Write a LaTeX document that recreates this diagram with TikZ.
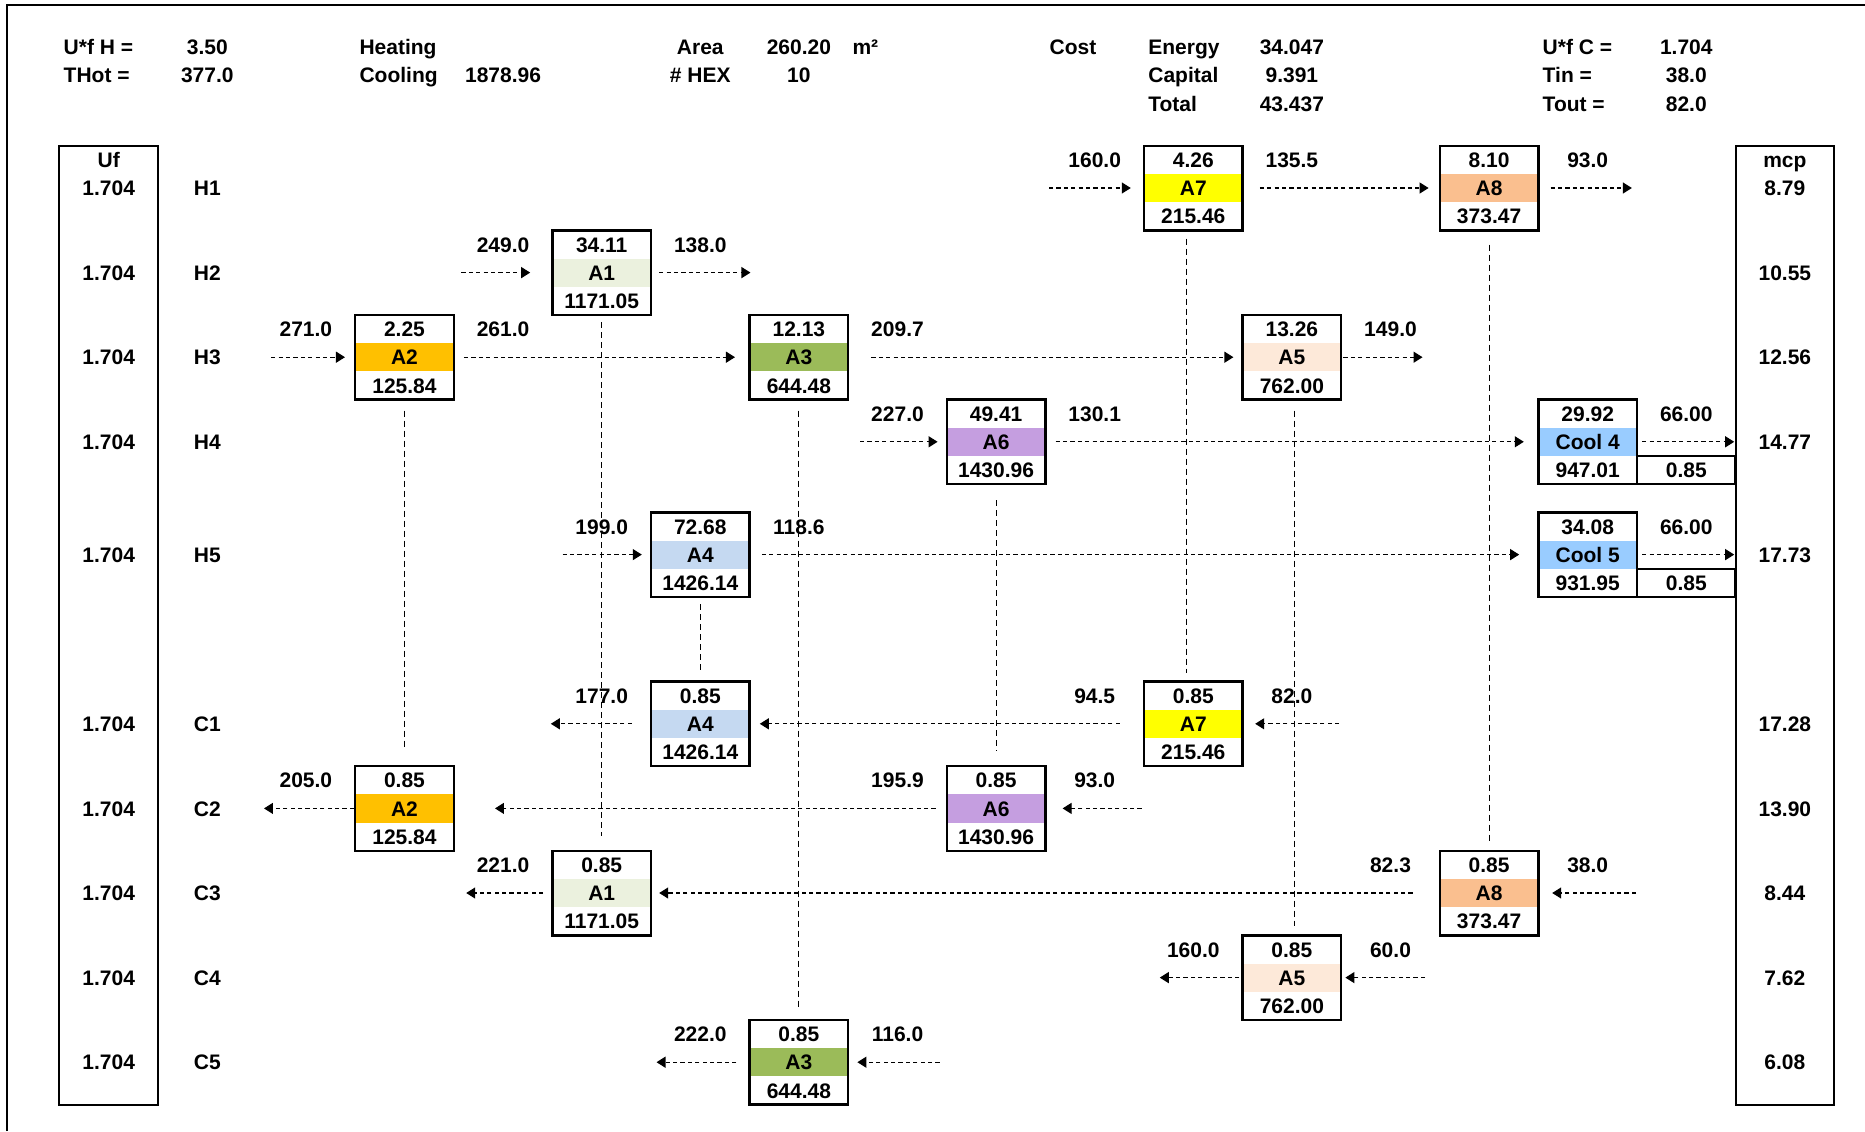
\documentclass[tikz,border=0pt]{standalone}
\usepackage{fontspec}
\setmainfont{Liberation Sans}
\usetikzlibrary{arrows.meta}

\definecolor{cA1}{HTML}{EBF1DE}
\definecolor{cA2}{HTML}{FFC000}
\definecolor{cA3}{HTML}{9BBB59}
\definecolor{cA4}{HTML}{C5D9F1}
\definecolor{cA5}{HTML}{FDE9D9}
\definecolor{cA6}{HTML}{C59EE0}
\definecolor{cA7}{HTML}{FFFF00}
\definecolor{cA8}{HTML}{FABF8F}
\definecolor{cCool}{HTML}{99CCFF}

% text centred in a cell (column, row), or left aligned in it
\newcommand\tx[3]{\node[txt] at (#1,#2+0.27) {#3};}
\newcommand\txl[3]{\node[txt,anchor=base west] at (#1-0.46,#2+0.27) {#3};}

% exchanger: name, column, row, top value, label, bottom value, band colour
\newcommand\hxbox[7]{%
  \fill[#7] (#2-0.5,#3-0.5) rectangle (#2+0.5,#3+0.5);
  \node[hxframe] (#1) at (#2,#3) {};
  \tx{#2}{#3-1}{#4}
  \tx{#2}{#3}{#5}
  \tx{#2}{#3+1}{#6}
}

\tikzset{
  txt/.style={font=\fontsize{10.5}{12}\selectfont\bfseries, inner sep=0pt, anchor=base},
  hxframe/.style={draw, line width=1.2pt, inner sep=0pt, minimum width=49.3pt, minimum height=42.3pt},
  cellframe/.style={draw, line width=1.2pt, inner sep=0pt, minimum width=49.3pt, minimum height=14.1pt},
  panel/.style={draw, line width=1pt},
  flow/.style={line width=0.6pt, dash pattern=on 2.1pt off 1.6pt, -{Triangle[length=4.5pt,width=5.5pt]}},
  pairline/.style={line width=0.45pt, dash pattern=on 3pt off 2pt},
}

\begin{document}
\begin{tikzpicture}[x=49.3pt, y=-14.1pt]
\useasboundingbox (-4.1024,-6.6667) rectangle (14.8124,33.4397);
\fill[white] (-4.1024,-6.6667) rectangle (14.8124,33.4397);
% outer frame (top and left edges)
\draw[line width=1pt] (-4.0314,33.4397) -- (-4.0314,-6.4894) -- (14.8124,-6.4894);

% ---- summary block ----
\txl{-3}{-5}{U*f H =}  \tx{-2}{-5}{3.50}
\txl{-3}{-4}{THot =}   \tx{-2}{-4}{377.0}
\txl{0}{-5}{Heating}
\txl{0}{-4}{Cooling}   \tx{1}{-4}{1878.96}
\tx{3}{-5}{Area}       \tx{4}{-5}{260.20}  \txl{5}{-5}{m²}
\tx{3}{-4}{\# HEX}     \tx{4}{-4}{10}
\txl{7}{-5}{Cost}
\txl{8}{-5}{Energy}    \tx{9}{-5}{34.047}
\txl{8}{-4}{Capital}   \tx{9}{-4}{9.391}
\txl{8}{-3}{Total}     \tx{9}{-3}{43.437}
\txl{12}{-5}{U*f C =}  \tx{13}{-5}{1.704}
\txl{12}{-4}{Tin =}    \tx{13}{-4}{38.0}
\txl{12}{-3}{Tout =}   \tx{13}{-3}{82.0}

% ---- side columns ----
\node[panel, inner sep=0pt, minimum width=49.3pt, minimum height=479.4pt] (uf) at (-3,15.5) {};
\node[panel, inner sep=0pt, minimum width=49.3pt, minimum height=479.4pt] (mcp) at (14,15.5) {};
\tx{-3}{-1}{Uf}
\tx{14}{-1}{mcp}
\foreach \r/\s/\m in {0/H1/8.79, 3/H2/10.55, 6/H3/12.56, 9/H4/14.77, 13/H5/17.73,
                      19/C1/17.28, 22/C2/13.90, 25/C3/8.44, 28/C4/7.62, 31/C5/6.08}{
  \tx{-3}{\r}{1.704}
  \tx{-2}{\r}{\s}
  \tx{14}{\r}{\m}
}

% ---- exchangers on the hot streams ----
\hxbox{hA7}{8}{0}{4.26}{A7}{215.46}{cA7}
\hxbox{hA8}{11}{0}{8.10}{A8}{373.47}{cA8}
\hxbox{hA1}{2}{3}{34.11}{A1}{1171.05}{cA1}
\hxbox{hA2}{0}{6}{2.25}{A2}{125.84}{cA2}
\hxbox{hA3}{4}{6}{12.13}{A3}{644.48}{cA3}
\hxbox{hA5}{9}{6}{13.26}{A5}{762.00}{cA5}
\hxbox{hA6}{6}{9}{49.41}{A6}{1430.96}{cA6}
\hxbox{hA4}{3}{13}{72.68}{A4}{1426.14}{cA4}

% coolers
\hxbox{cool4}{12}{9}{29.92}{Cool 4}{947.01}{cCool}
\node[cellframe] (cool4x) at (13,10) {};
\tx{13}{10}{0.85}
\tx{13}{8}{66.00}
\hxbox{cool5}{12}{13}{34.08}{Cool 5}{931.95}{cCool}
\node[cellframe] (cool5x) at (13,14) {};
\tx{13}{14}{0.85}
\tx{13}{12}{66.00}

% ---- exchangers on the cold streams ----
\hxbox{cA4}{3}{19}{0.85}{A4}{1426.14}{cA4}
\hxbox{cA7}{8}{19}{0.85}{A7}{215.46}{cA7}
\hxbox{cA2}{0}{22}{0.85}{A2}{125.84}{cA2}
\hxbox{cA6}{6}{22}{0.85}{A6}{1430.96}{cA6}
\hxbox{cA1}{2}{25}{0.85}{A1}{1171.05}{cA1}
\hxbox{cA8}{11}{25}{0.85}{A8}{373.47}{cA8}
\hxbox{cA5}{9}{28}{0.85}{A5}{762.00}{cA5}
\hxbox{cA3}{4}{31}{0.85}{A3}{644.48}{cA3}

% ---- stream temperatures ----
\tx{7}{-1}{160.0} \tx{9}{-1}{135.5} \tx{12}{-1}{93.0}
\tx{1}{2}{249.0}  \tx{3}{2}{138.0}
\tx{-1}{5}{271.0} \tx{1}{5}{261.0} \tx{5}{5}{209.7} \tx{10}{5}{149.0}
\tx{5}{8}{227.0}  \tx{7}{8}{130.1}
\tx{2}{12}{199.0} \tx{4}{12}{118.6}
\tx{2}{18}{177.0} \tx{7}{18}{94.5} \tx{9}{18}{82.0}
\tx{-1}{21}{205.0} \tx{5}{21}{195.9} \tx{7}{21}{93.0}
\tx{1}{24}{221.0} \tx{10}{24}{82.3} \tx{12}{24}{38.0}
\tx{8}{27}{160.0} \tx{10}{27}{60.0}
\tx{3}{30}{222.0} \tx{5}{30}{116.0}

% ---- free ends of the stream arrows ----
\coordinate (h1in) at (6.537,0);   \coordinate (h1out) at (12.448,0);
\coordinate (h2in) at (0.578,3);   \coordinate (h2out) at (3.509,3);
\coordinate (h3in) at (-1.352,6);  \coordinate (h3out) at (10.325,6);
\coordinate (h4in) at (4.62,9);    \coordinate (h4out) at (13.486,9);
\coordinate (h5in) at (1.603,13);  \coordinate (h5out) at (13.486,13);
\coordinate (c1in) at (9.48,19);   \coordinate (c1out) at (1.484,19);
\coordinate (c2in) at (7.476,22);  \coordinate (c2out) at (-1.425,22);
\coordinate (c3in) at (12.49,25);  \coordinate (c3out) at (0.626,25);
\coordinate (c4in) at (10.35,28);  \coordinate (c4out) at (7.66,28);
\coordinate (c5in) at (5.427,31);  \coordinate (c5out) at (2.556,31);

% hot streams, left to right
\draw[flow, shorten >=6pt] (h1in) -- (hA7.west);
\draw[flow, shorten <=8pt, shorten >=5pt] (hA7.east) -- (hA8.west);
\draw[flow, shorten <=5.5pt] (hA8.east) -- (h1out);

\draw[flow, shorten >=10.5pt] (h2in) -- (hA1.west);
\draw[flow, shorten <=3.5pt] (hA1.east) -- (h2out);

\draw[flow, shorten >=4.5pt] (h3in) -- (hA2.west);
\draw[flow, shorten <=4.5pt, shorten >=6.7pt] (hA2.east) -- (hA3.west);
\draw[flow, shorten <=11pt, shorten >=4pt] (hA3.east) -- (hA5.west);
\draw[flow, shorten <=0.5pt] (hA5.east) -- (h3out);

\draw[flow, shorten >=4pt] (h4in) -- (hA6.west);
\draw[flow, shorten <=4.5pt, shorten >=6.7pt] (hA6.east) -- (cool4.west);
\draw[flow, shorten <=2pt] (cool4.east) -- (h4out);

\draw[flow, shorten >=4pt] (h5in) -- (hA4.west);
\draw[flow, shorten <=5.5pt, shorten >=9pt] (hA4.east) -- (cool5.west);
\draw[flow, shorten <=2pt] (cool5.east) -- (h5out);

% cold streams, right to left
\draw[flow, shorten >=5.7pt] (c1in) -- (cA7.east);
\draw[flow, shorten <=11.5pt, shorten >=4.5pt] (cA7.west) -- (cA4.east);
\draw[flow, shorten <=9pt] (cA4.west) -- (c1out);

\draw[flow, shorten >=8pt] (c2in) -- (cA6.east);
\draw[flow, shorten <=5pt, shorten >=20pt] (cA6.west) -- (cA2.east);
\draw[flow] (cA2.west) -- (c2out);

\draw[flow, shorten >=6.3pt] (c3in) -- (cA8.east);
\draw[flow, shorten <=13pt, shorten >=3.5pt] (cA8.west) -- (cA1.east);
\draw[flow, shorten <=4pt] (cA1.west) -- (c3out);

\draw[flow, shorten >=1.5pt] (c4in) -- (cA5.east);
\draw[flow, shorten <=1pt] (cA5.west) -- (c4out);

\draw[flow, shorten >=4pt] (c5in) -- (cA3.east);
\draw[flow, shorten <=6pt] (cA3.west) -- (c5out);

% each exchanger's hot side tied to its cold side
\draw[pairline, shorten <=5pt, shorten >=8.5pt] (hA2.south) -- (cA2.north);
\draw[pairline, shorten <=3pt, shorten >=7pt] (hA1.south) -- (cA1.north);
\draw[pairline, shorten <=3pt, shorten >=3.5pt] (hA4.south) -- (cA4.north);
\draw[pairline, shorten <=5pt, shorten >=4.5pt] (hA3.south) -- (cA3.north);
\draw[pairline, shorten <=7.5pt, shorten >=7pt] (hA6.south) -- (cA6.north);
\draw[pairline, shorten <=3.5pt, shorten >=3.5pt] ([xshift=-3.5pt]hA7.south) -- ([xshift=-3.5pt]cA7.north);
\draw[pairline, shorten <=5pt, shorten >=4pt] ([xshift=1.5pt]hA5.south) -- ([xshift=1.5pt]cA5.north);
\draw[pairline, shorten <=6.5pt, shorten >=2.75pt] (hA8.south) -- (cA8.north);
\end{tikzpicture}
\end{document}
